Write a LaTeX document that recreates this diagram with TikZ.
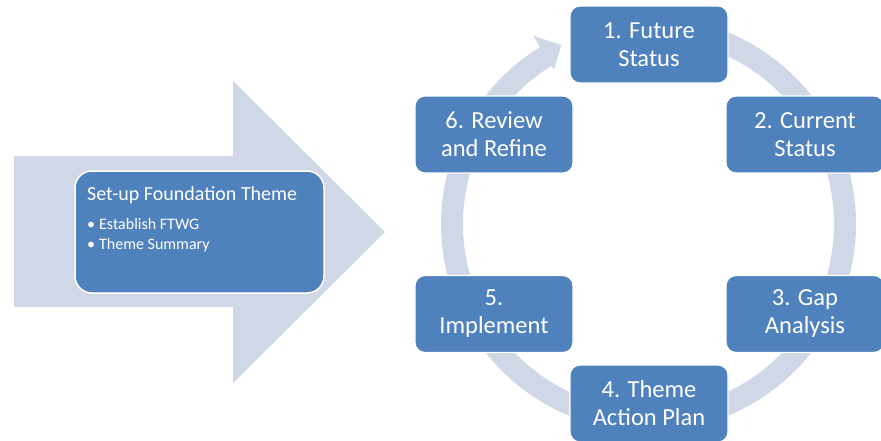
\documentclass[tikz,border=0pt]{standalone}
\usepackage{fontspec}
\setmainfont{Carlito}
\definecolor{boxblue}{HTML}{4F81BD}
\definecolor{ringgray}{HTML}{D0D8E8}
\begin{document}
\begin{tikzpicture}[x=1pt,y=-1pt,
  cyclebox/.style={draw=white, line width=1.2pt, fill=boxblue, rounded corners=10pt,
    minimum width=158pt, minimum height=77pt, align=center, text=white,
    font=\fontsize{24.5}{28}\selectfont, inner sep=0pt},
  foundbox/.style={draw=white, line width=1.5pt, fill=boxblue, rounded corners=17pt,
    minimum width=249pt, minimum height=122pt, inner sep=0pt},
  foundtxt/.style={text=white, inner sep=0pt, anchor=base west},
  bigarrow/.style={fill=ringgray},
]
\useasboundingbox (0,0) rectangle (881,440);
\clip (0,0) rectangle (881,440);
% big arrow
\fill[bigarrow] (14,156) -- (233,156) -- (233,81) -- (385,232) -- (233,383) -- (233,307) -- (14,307) -- cycle;
% circular ring arrow
\begin{scope}[shift={(648.5,224)}]
\fill[ringgray] (-90:207.5) arc[start angle=-90, end angle=238.5, radius=207.5]
  -- (238.5:221) -- (244:199) -- (238.5:181) -- (238.5:185.5)
  arc[start angle=238.5, end angle=-90, radius=185.5] -- cycle;
\end{scope}
% foundation box
\node[foundbox] (found) at (199.5,232) {};
\node[foundtxt, font=\fontsize{20}{24}\selectfont] (title) at (87,200) {Set-up Foundation Theme};
\node[foundtxt, font=\fontsize{16}{20}\selectfont] (b1) at (87,229) {\textbullet\hspace{4pt}Establish FTWG};
\node[foundtxt, font=\fontsize{16}{20}\selectfont] (b2) at (87,249.5) {\textbullet\hspace{4pt}Theme Summary};
% cycle boxes
\node[cyclebox] (s1) at (649,44.5) {1. Future\\Status};
\node[cyclebox] (s2) at (805,134.5) {2. Current\\Status};
\node[cyclebox] (s3) at (805,314) {3. Gap\\Analysis};
\node[cyclebox] (s4) at (649,403.5) {4. Theme\\Action Plan};
\node[cyclebox] (s5) at (494,314) {5.\\Implement};
\node[cyclebox] (s6) at (494,134.5) {6. Review\\and Refine};
\end{tikzpicture}
\end{document}
